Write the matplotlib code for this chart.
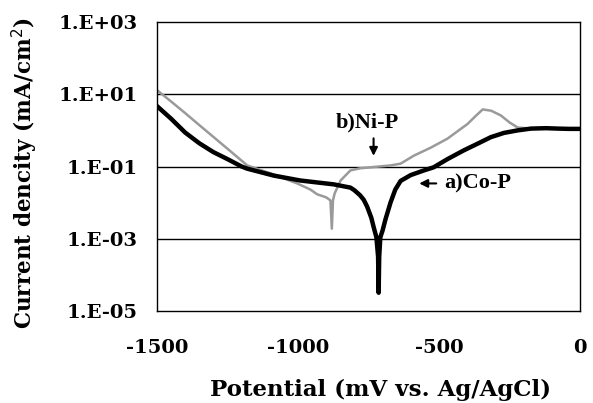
import matplotlib.pyplot as plt
from matplotlib.ticker import FixedLocator, FixedFormatter

plt.rcParams['axes.unicode_minus'] = False

# Co-P curve (potential in mV, current density in mA/cm2)
cop_x = [-1500, -1450, -1400, -1350, -1300, -1250, -1200, -1180, -1086, -992,
         -873, -814, -800, -780, -767, -755, -740, -731, -722, -716, -714, -712,
         -708, -700, -690, -672, -655, -636, -600, -553, -519, -470, -412,
         -360, -316, -270, -221, -174, -120, -79, -40, 0]
cop_y = [4.7, 2.1, 0.87, 0.44, 0.25, 0.16, 0.10, 0.087, 0.056, 0.041,
         0.032, 0.026, 0.022, 0.016, 0.012, 0.0078, 0.0038, 0.002, 0.0011, 0.00032, 0.000032, 0.00032,
         0.0011, 0.0017, 0.0034, 0.01, 0.023, 0.04, 0.058, 0.078, 0.095, 0.16, 0.28,
         0.44, 0.65, 0.85, 1.0, 1.12, 1.15, 1.12, 1.1, 1.1]

# Ni-P curve
nip_x = [-1500, -1450, -1400, -1350, -1300, -1250, -1180, -1086, -1003, -956,
         -932, -900, -885, -880, -876, -870, -849, -814, -780, -743, -672,
         -636, -589, -530, -470, -430, -399, -370, -345, -315, -281, -250,
         -221, -174, -120, -79, -40, 0]
nip_y = [13, 6.3, 3.0, 1.4, 0.66, 0.31, 0.107, 0.06, 0.034, 0.023,
         0.017, 0.014, 0.0115, 0.0019, 0.0115, 0.018, 0.041, 0.078, 0.089, 0.095, 0.107,
         0.12, 0.2, 0.33, 0.59, 1.0, 1.5, 2.5, 3.8, 3.5, 2.6, 1.66,
         1.2, 1.12, 1.15, 1.12, 1.1, 1.1]

x_ticks = [-1500, -1000, -500, 0]
y_ticks = [1e-5, 1e-3, 1e-1, 1e1, 1e3]
y_labels = ['1.E-05', '1.E-03', '1.E-01', '1.E+01', '1.E+03']

fig = plt.figure(figsize=(5.93, 4.03), dpi=100)
ax = fig.add_axes([157/593, 1 - 311/403, 423/593, 289/403])

for yv in [1e-3, 1e-1, 1e1]:
    ax.axhline(yv, color='black', linewidth=1.0, zorder=1)

ax.plot(nip_x, nip_y, color='#9a9a9a', linewidth=1.8, zorder=2)
ax.plot(cop_x, cop_y, color='black', linewidth=3.2, zorder=3,
        solid_joinstyle='round')

ax.set_yscale('log')
ax.set_xlim(-1500, 0)
ax.set_ylim(1e-5, 1e3)
ax.xaxis.set_major_locator(FixedLocator(x_ticks))
ax.yaxis.set_major_locator(FixedLocator(y_ticks))
ax.yaxis.set_major_formatter(FixedFormatter(y_labels))
ax.yaxis.set_minor_locator(FixedLocator([]))
ax.tick_params(axis='both', length=0, labelsize=14)
ax.tick_params(axis='x', pad=20)
ax.tick_params(axis='y', pad=14)
for lab in ax.get_xticklabels() + ax.get_yticklabels():
    lab.set_family('DejaVu Serif')
    lab.set_fontweight('bold')
for sp in ax.spines.values():
    sp.set_linewidth(1.0)

# annotations
ax.text(-753, 1.66, 'b)Ni-P', family='Liberation Serif', fontweight='bold',
        fontsize=16, ha='center', va='center')
ax.annotate('', xy=(-732, 0.165), xytext=(-732, 0.72),
            arrowprops=dict(arrowstyle='-|>', color='black', lw=1.5, mutation_scale=12))
ax.text(-483, 0.034, 'a)Co-P', family='Liberation Serif', fontweight='bold',
        fontsize=16, ha='left', va='center')
ax.annotate('', xy=(-580, 0.034), xytext=(-500, 0.034),
            arrowprops=dict(arrowstyle='-|>', color='black', lw=1.5, mutation_scale=12))

fig.text(380/593, 1 - 390/403, 'Potential (mV vs. Ag/AgCl)', family='DejaVu Serif',
         fontweight='bold', fontsize=16.5, ha='center', va='center')
fig.text(25/593, 1 - 173/403, 'Current dencity (mA/cm$^2$)', family='DejaVu Serif',
         fontweight='bold', fontsize=15.5, ha='center', va='center', rotation=90)

fig.savefig('out.png', dpi=100)
